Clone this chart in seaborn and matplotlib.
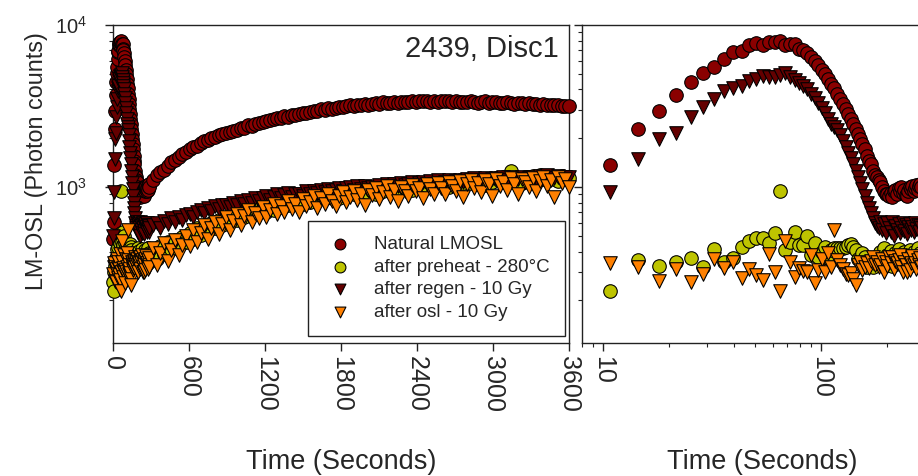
import numpy as np
import pandas as pd
import matplotlib
matplotlib.use("Agg")
import matplotlib.pyplot as plt
import seaborn as sns
from matplotlib.ticker import LogLocator, NullFormatter, FixedLocator, FixedFormatter

# ---------------- data ----------------
# time grid: 3.6 s channels up to 288 s, then every 28.8 s up to 3600 s
time_fine = 3.6 * np.arange(1, 81)
time_coarse = 316.8 + 28.8 * np.arange(115)

natural_fine = [480, 610, 1370, 2270, 2960, 3700, 4430, 5040, 5490, 6140,
                6780, 6930, 7480, 7780, 7480, 7800, 7900, 8000, 7480, 7600,
                7600, 7080, 7040, 6750, 6370, 5970, 5640, 5270, 4980, 4640,
                4330, 4070, 3770, 3510, 3250, 3030, 2820, 2620, 2450, 2270,
                2110, 1970, 1840, 1710, 1550, 1450, 1380, 1260, 1190, 1150,
                1110, 1070, 1000, 950, 910, 900, 880, 920, 870, 940,
                960, 900, 990, 950, 1000, 920, 960, 890, 880, 940,
                1000, 970, 1010, 940, 990, 1030, 960, 1010, 1050, 1000]
natural_coarse = [1100, 1180, 1230, 1270, 1350, 1420, 1470, 1540, 1600, 1650,
                  1720, 1760, 1800, 1880, 1910, 1950, 2010, 2030, 2100, 2110,
                  2140, 2200, 2230, 2260, 2310, 2330, 2400, 2390, 2460, 2490,
                  2520, 2560, 2580, 2640, 2650, 2680, 2740, 2720, 2790, 2800,
                  2820, 2880, 2860, 2910, 2940, 2950, 3010, 2980, 3060, 3040,
                  3070, 3130, 3100, 3150, 3190, 3170, 3220, 3200, 3250, 3230,
                  3250, 3300, 3270, 3330, 3290, 3310, 3370, 3320, 3360, 3340,
                  3350, 3400, 3360, 3390, 3420, 3375, 3350, 3410, 3370, 3390,
                  3380, 3420, 3350, 3400, 3370, 3365, 3330, 3390, 3350, 3320,
                  3345, 3380, 3310, 3360, 3330, 3320, 3290, 3350, 3300, 3270,
                  3290, 3320, 3260, 3280, 3240, 3250, 3210, 3270, 3220, 3190,
                  3200, 3230, 3170, 3180, 3160]

preheat_fine = [260, 300, 228, 354, 325, 346, 363, 319, 414, 346,
                363, 428, 462, 482, 482, 453, 523, 950, 408, 459,
                530, 438, 438, 497, 381, 453, 372, 400, 428, 363,
                410, 418, 418, 418, 418, 428, 438, 448, 428, 408,
                360, 354, 389, 372, 322, 346, 338, 322, 338, 354,
                340, 395, 360, 420, 330, 380, 350, 405, 325, 370,
                390, 345, 415, 335, 375, 360, 400, 340, 385, 355,
                410, 330, 370, 395, 350, 380, 420, 345, 390, 365]
preheat_coarse = [400, 360, 430, 385, 455, 415, 470, 445, 495, 455,
                  520, 475, 555, 505, 575, 540, 600, 555, 625, 585,
                  640, 605, 675, 625, 695, 650, 705, 685, 735, 700,
                  740, 705, 775, 725, 790, 755, 805, 770, 835, 785,
                  820, 785, 865, 805, 880, 835, 895, 855, 915, 860,
                  890, 855, 935, 875, 950, 905, 955, 915, 985, 920,
                  940, 905, 995, 945, 1010, 965, 1015, 975, 1045, 980,
                  990, 955, 1045, 995, 1060, 1015, 1065, 1025, 1095, 1030,
                  1030, 995, 1085, 1035, 1100, 1055, 1105, 1065, 1125, 1070,
                  1070, 1035, 1125, 1075, 1145, 1085, 1150, 1105, 1250, 1110,
                  1100, 1065, 1155, 1105, 1175, 1115, 1185, 1125, 1165, 1140,
                  1120, 1095, 1175, 1135, 1130]

regen_fine = [500, 640, 935, 1480, 1970, 2160, 2720, 3130, 3480, 3930,
              4060, 4200, 4510, 4620, 4840, 4750, 4800, 4910, 5080, 4750,
              4570, 4400, 4200, 4010, 3750, 3530, 3290, 3060, 2850, 2630,
              2450, 2350, 2250, 2090, 1930, 1770, 1630, 1500, 1390, 1260,
              1160, 1060, 970, 880, 800, 740, 690, 640, 600, 575,
              560, 610, 540, 590, 520, 600, 555, 530, 610, 500,
              575, 545, 590, 520, 560, 600, 535, 580, 510, 565,
              595, 540, 570, 525, 600, 550, 585, 530, 575, 560]
regen_coarse = [580, 600, 560, 620, 590, 640, 610, 650, 630, 670,
                680, 650, 700, 720, 690, 740, 710, 760, 730, 770,
                780, 750, 800, 770, 820, 790, 830, 800, 850, 820,
                850, 880, 830, 870, 900, 860, 890, 920, 870, 900,
                910, 880, 940, 900, 950, 920, 960, 930, 970, 940,
                960, 990, 940, 980, 1000, 960, 1010, 970, 1020, 990,
                1000, 970, 1030, 990, 1040, 1010, 1050, 1020, 1060, 1030,
                1040, 1070, 1020, 1060, 1080, 1040, 1090, 1050, 1100, 1060,
                1070, 1100, 1050, 1090, 1110, 1070, 1120, 1080, 1130, 1090,
                1100, 1130, 1080, 1120, 1140, 1100, 1150, 1110, 1160, 1120,
                1120, 1150, 1100, 1140, 1160, 1120, 1170, 1130, 1180, 1140,
                1140, 1170, 1120, 1160, 1150]

osl_fine = [290, 320, 338, 322, 263, 311, 258, 290, 360, 315,
            343, 275, 310, 286, 267, 387, 300, 227, 465, 346,
            278, 315, 303, 297, 381, 257, 307, 358, 297, 389,
            320, 545, 354, 330, 311, 290, 286, 293, 270, 250,
            330, 346, 307, 320, 338, 315, 350, 372, 330, 345,
            320, 330, 360, 300, 346, 325, 372, 340, 372, 310,
            350, 338, 354, 381, 320, 300, 345, 330, 297, 360,
            307, 340, 375, 330, 340, 310, 355, 330, 365, 320]
osl_coarse = [420, 330, 390, 450, 350, 410, 470, 380, 440, 500,
              430, 540, 460, 520, 580, 480, 560, 610, 510, 590,
              650, 540, 620, 680, 580, 660, 720, 610, 690, 640,
              750, 650, 720, 790, 680, 760, 700, 820, 730, 790,
              700, 840, 760, 810, 880, 740, 850, 790, 900, 820,
              760, 880, 930, 810, 870, 950, 830, 900, 780, 960,
              890, 980, 840, 930, 1010, 870, 960, 820, 1000, 940,
              880, 1030, 950, 990, 850, 1050, 970, 910, 1060, 990,
              900, 1080, 1010, 950, 1090, 870, 1040, 1110, 980, 1060,
              930, 1100, 1040, 880, 1120, 1010, 1070, 960, 1130, 1050,
              900, 1120, 1080, 1000, 1140, 950, 1090, 1150, 1020, 1100,
              870, 1160, 1060, 1120, 1000]

series_names = ["Natural LMOSL", "after preheat - 280\u00b0C",
                "after regen - 10 Gy", "after osl - 10 Gy"]
series_values = [natural_fine + natural_coarse, preheat_fine + preheat_coarse,
                 regen_fine + regen_coarse, osl_fine + osl_coarse]
time_s = np.concatenate([time_fine, time_coarse])

frames = []
for name, vals in zip(series_names, series_values):
    assert len(vals) == len(time_s), (name, len(vals))
    frames.append(pd.DataFrame({"time": time_s, "counts": vals, "series": name}))
df = pd.concat(frames, ignore_index=True)

styles = {
    "Natural LMOSL": dict(marker="o", color="#8A0000"),
    "after preheat - 280\u00b0C": dict(marker="o", color="#BEC400"),
    "after regen - 10 Gy": dict(marker="v", color="#640000"),
    "after osl - 10 Gy": dict(marker="v", color="#FF8000"),
}

# ---------------- figure ----------------
sns.set_style("ticks")
plt.rcParams["font.family"] = ["Liberation Sans", "DejaVu Sans"]
plt.rcParams["mathtext.fontset"] = "custom"
plt.rcParams["mathtext.rm"] = "Liberation Sans"
plt.rcParams["mathtext.it"] = "Liberation Sans:italic"
plt.rcParams["mathtext.bf"] = "Liberation Sans:bold"

W, H = 918, 476
fig = plt.figure(figsize=(W / 100, H / 100), dpi=100)
ax1 = fig.add_axes([113 / W, 1 - 343 / H, (569 - 113) / W, (343 - 25) / H])
ax2 = fig.add_axes([582 / W, 1 - 343 / H, (925 - 582) / W, (343 - 25) / H])

MS = 95
for name in series_names:
    sub = df[df["series"] == name]
    st = styles[name]
    sns.scatterplot(data=sub, x="time", y="counts", ax=ax1, marker=st["marker"],
                    color=st["color"], s=MS, edgecolor="black", linewidth=0.8,
                    label=name, clip_on=False, zorder=3)
    sns.scatterplot(data=sub, x="time", y="counts", ax=ax2, marker=st["marker"],
                    color=st["color"], s=MS, edgecolor="black", linewidth=0.8,
                    legend=False, zorder=3)

ylim = (109, 10000)
for ax in (ax1, ax2):
    ax.set_yscale("log")
    ax.set_ylim(*ylim)
    ax.yaxis.set_major_locator(FixedLocator([1000, 10000]))
    ax.yaxis.set_minor_locator(LogLocator(base=10, subs=np.arange(2, 10)))
    ax.yaxis.set_minor_formatter(NullFormatter())
    for sp in ax.spines.values():
        sp.set_linewidth(1.0)
        sp.set_color("#222222")
    ax.tick_params(axis="both", which="major", direction="out", length=6,
                   width=1.0, color="#222222")
    ax.tick_params(axis="both", which="minor", direction="out", length=3,
                   width=0.8, color="#222222")

# left panel
ax1.set_xlim(0, 3600)
ax1.set_xticks([0, 600, 1200, 1800, 2400, 3000, 3600])
ax1.set_xticklabels(["0", "600", "1200", "1800", "2400", "3000", "3600"],
                    rotation=-90, fontsize=18)
ax1.set_yticklabels(["$10^3$", "$10^4$"], fontsize=14.5)
ax1.tick_params(axis="x", which="major", pad=3)
ax1.tick_params(axis="y", which="major", pad=13)
ax1.set_xlabel("Time (Seconds)", fontsize=19.5)
ax1.xaxis.set_label_coords(0.5, -0.334)
ax1.set_ylabel("LM-OSL (Photon counts)", fontsize=16.8)
ax1.yaxis.set_label_coords(-0.143, 0.572)
ax1.text(0.978, 0.925, "2439, Disc1", transform=ax1.transAxes, ha="right",
         va="center", fontsize=21)

ax1.legend(loc="lower right", bbox_to_anchor=(0.991, 0.022), frameon=True,
           fancybox=False, edgecolor="#222222", framealpha=1, fontsize=13.5,
           markerscale=0.8, handlelength=1.8, handletextpad=0.92,
           borderpad=0.8, labelspacing=0.3, borderaxespad=0)
ax1.get_legend().get_frame().set_linewidth(1.0)

# right panel
ax2.set_xscale("log")
ax2.set_xlim(8, 300)
ax2.xaxis.set_major_locator(FixedLocator([10, 100]))
ax2.xaxis.set_major_formatter(FixedFormatter(["10", "100"]))
ax2.xaxis.set_minor_locator(LogLocator(base=10, subs=np.arange(2, 10)))
ax2.xaxis.set_minor_formatter(NullFormatter())
plt.setp(ax2.get_xticklabels(), rotation=-90, fontsize=18)
ax2.tick_params(axis="x", which="major", pad=3)
ax2.set_yticklabels([])
ax2.set_ylabel("")
ax2.set_xlabel("Time (Seconds)", fontsize=19.5)
ax2.xaxis.set_label_coords(0.525, -0.334)

fig.savefig("out.png", dpi=100)
